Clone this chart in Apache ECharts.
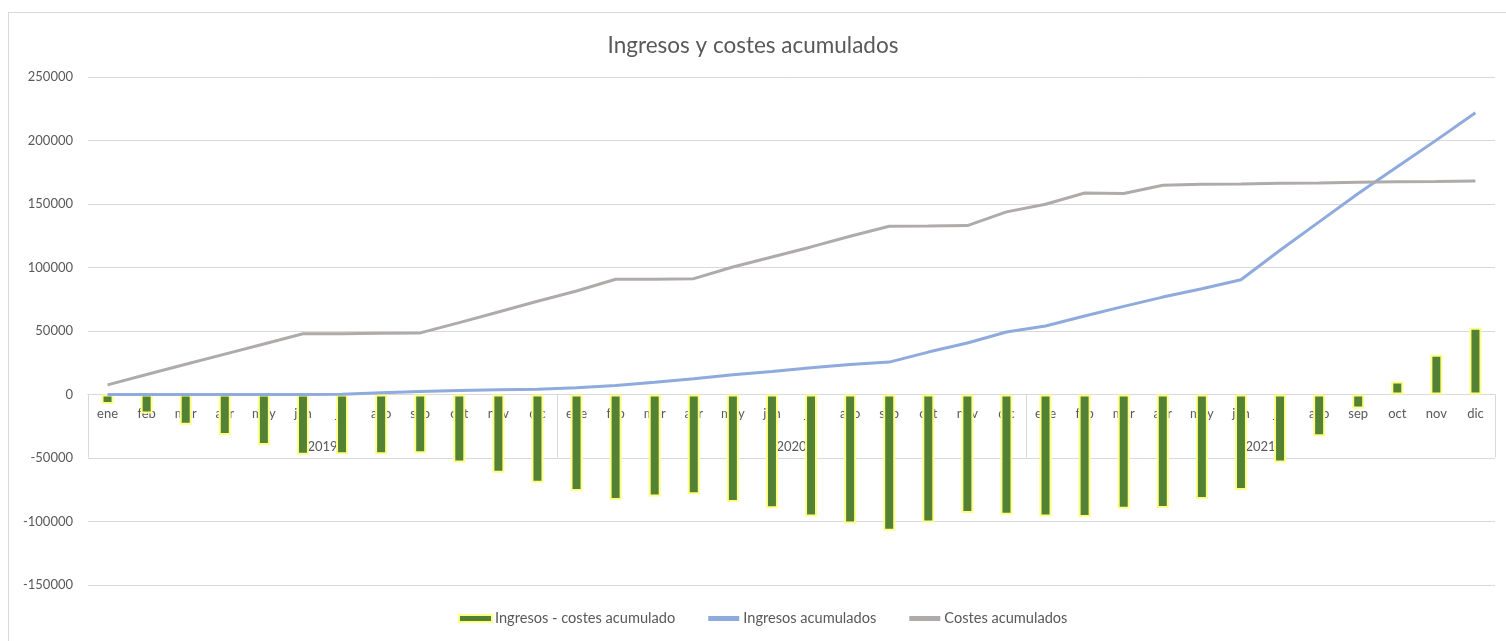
<!DOCTYPE html>
<html>
<head>
<meta charset="utf-8">
<script src="https://cdn.jsdelivr.net/npm/echarts@6/dist/echarts.min.js"></script>
<style>
  html, body { margin: 0; padding: 0; background: #ffffff; }
  #frame { position: absolute; left: 8px; top: 12px; width: 1510px; height: 640px; border: 1px solid #d9d9d9; box-sizing: border-box; }
  #chart { position: absolute; left: 0; top: 0; width: 1506px; height: 641px; }
</style>
</head>
<body>
<div id="frame"></div>
<div id="chart"></div>
<script>
const months = ['ene','feb','mar','abr','may','jun','jul','ago','sep','oct','nov','dic',
                'ene','feb','mar','abr','may','jun','jul','ago','sep','oct','nov','dic',
                'ene','feb','mar','abr','may','jun','jul','ago','sep','oct','nov','dic'];
const years = ['2019', '2020', '2021'];

const ingresosMenosCostes = [
  -7400, -15000, -23900, -31800, -39700, -47500, -47000, -47000, -46300, -53600, -61700, -69400,
  -76000, -83000, -80400, -78600, -84600, -89600, -96000, -101500, -107200, -100700, -93300, -94600,
  -96000, -96500, -89900, -89400, -82300, -75200, -53600, -32900, -11000, 10250, 31300, 52600
];
const ingresosAcumulados = [
  0, 0, 0, 0, 0, 0, 200, 1300, 2400, 3200, 3700, 4200,
  5300, 7100, 9700, 12400, 15500, 18100, 21000, 23700, 25500, 33400, 40500, 49200,
  53900, 61800, 69400, 76700, 83300, 90400, 113600, 135900, 158300, 179300, 200300, 221800
];
const costesAcumulados = [
  7600, 15700, 23800, 31800, 39800, 47800, 47900, 48300, 48500, 56600, 65000, 73400,
  81500, 90700, 90700, 91200, 100400, 108300, 116200, 124600, 132500, 132700, 133000, 143800,
  149800, 158700, 158300, 164800, 165600, 165800, 166400, 166600, 167200, 167500, 167700, 168200
];

const FONT = 'Lato, "Open Sans", sans-serif';
const TXT = '#595959';
const GRIDC = '#d9d9d9';

const chart = echarts.init(document.getElementById('chart'));
const gridPos = { left: 88, right: 11, top: 77, bottom: 56, containLabel: false };
chart.setOption({
  animation: false,
  textStyle: { fontFamily: FONT },
  title: {
    text: 'Ingresos y costes acumulados',
    left: 'center', top: 29,
    textStyle: { fontFamily: FONT, fontSize: 22.5, fontWeight: 'normal', color: TXT }
  },
  legend: {
    bottom: 10, left: 453,
    itemGap: 31, itemWidth: 33, itemHeight: 7,
    textStyle: { fontFamily: FONT, fontSize: 14.6, color: TXT, padding: [0, 0, 0, -2] },
    data: [
      { name: 'Ingresos - costes acumulado', icon: 'rect',
        itemStyle: { color: '#548235', borderColor: '#ffff88', borderWidth: 2 } },
      { name: 'Ingresos acumulados', icon: 'rect',
        itemStyle: { color: '#8faadc', borderColor: '#fff', borderWidth: 2 } },
      { name: 'Costes acumulados', icon: 'rect',
        itemStyle: { color: '#afabab', borderColor: '#fff', borderWidth: 2 } }
    ]
  },
  grid: [ gridPos, Object.assign({}, gridPos) ],
  xAxis: [
    {
      type: 'category', gridIndex: 0, data: months,
      axisLine: { onZero: true, lineStyle: { color: GRIDC, width: 1 } },
      axisTick: { show: false },
      axisLabel: { interval: 0, margin: -178, fontSize: 13, color: TXT, fontFamily: FONT },
      splitLine: { show: false }
    },
    {
      type: 'category', gridIndex: 1, data: years, position: 'bottom',
      axisLine: { onZero: true, lineStyle: { color: GRIDC, width: 1 } },
      axisTick: { show: true, interval: 0, length: 63, lineStyle: { color: GRIDC, width: 1 } },
      axisLabel: { interval: 0, margin: -145, fontSize: 13, color: TXT, fontFamily: FONT },
      splitLine: { show: false }
    }
  ],
  yAxis: [
    {
      type: 'value', gridIndex: 0, min: -150000, max: 250000, interval: 50000,
      axisLine: { show: false }, axisTick: { show: false },
      axisLabel: { margin: 15, fontSize: 13, color: TXT, fontFamily: FONT,
                   formatter: function (v) { return String(v); } },
      splitLine: { lineStyle: { color: GRIDC, width: 1 } }
    },
    {
      type: 'value', gridIndex: 1, min: -150000, max: 250000, interval: 50000, show: false,
      splitLine: { show: false }
    }
  ],
  series: [
    {
      name: 'Ingresos - costes acumulado', type: 'bar', xAxisIndex: 0, yAxisIndex: 0,
      data: ingresosMenosCostes, barWidth: 12,
      itemStyle: { color: '#548235', borderColor: '#ffff88', borderWidth: 2 }
    },
    {
      name: 'Ingresos acumulados', type: 'line', xAxisIndex: 0, yAxisIndex: 0,
      data: ingresosAcumulados, showSymbol: false, symbol: 'none',
      lineStyle: { color: '#8faadc', width: 3 }, itemStyle: { color: '#8faadc' }, z: 3
    },
    {
      name: 'Costes acumulados', type: 'line', xAxisIndex: 0, yAxisIndex: 0,
      data: costesAcumulados, showSymbol: false, symbol: 'none',
      lineStyle: { color: '#afabab', width: 3 }, itemStyle: { color: '#afabab' }, z: 3
    }
  ]
});
</script>
</body>
</html>
